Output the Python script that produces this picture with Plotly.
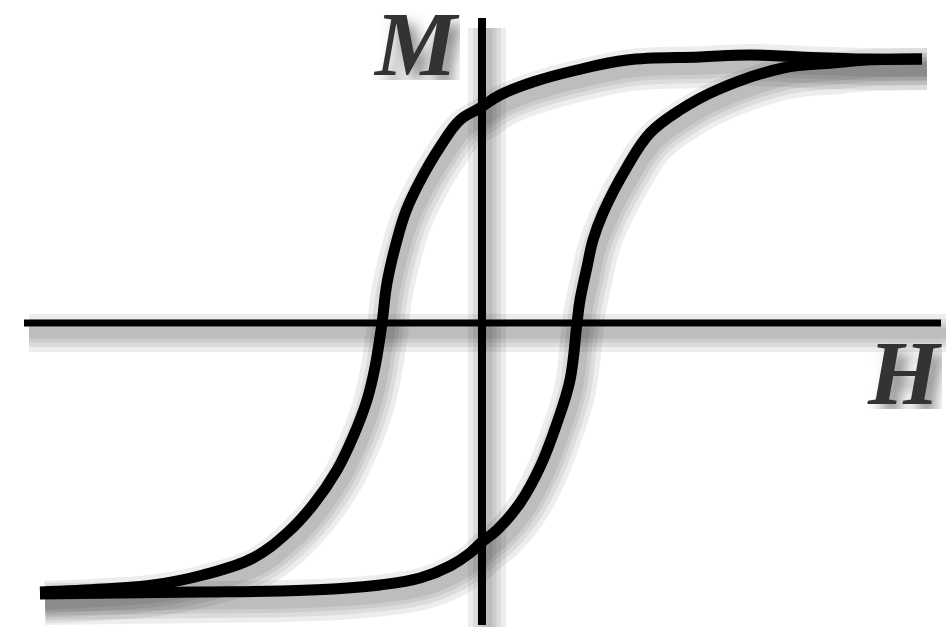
import plotly.graph_objects as go

# Descending branch (from positive saturation down to negative saturation)
H_down = [4.40, 3.85, 3.18, 2.68, 2.18, 1.45, 0.95, 0.51, 0.18, -0.02, -0.22, -0.42,
          -0.63, -0.76, -0.85, -0.95, -1.00, -1.07, -1.15, -1.29, -1.45, -1.69, -1.95,
          -2.29, -2.79, -3.29, -3.79, -4.42]
M_down = [2.64, 2.64, 2.66, 2.68, 2.66, 2.63, 2.53, 2.41, 2.28, 2.15, 2.03, 1.76,
          1.40, 1.12, 0.83, 0.40, 0.00, -0.44, -0.77, -1.14, -1.47, -1.82, -2.10,
          -2.35, -2.52, -2.62, -2.66, -2.69]

# Ascending branch (from negative saturation up to positive saturation)
H_up = [-4.42, -3.62, -2.82, -2.02, -1.49, -1.02, -0.62, -0.32, -0.12, 0.01, 0.15, 0.38,
        0.58, 0.75, 0.88, 0.95, 0.98, 1.05, 1.11, 1.21, 1.45, 1.68, 1.98, 2.35, 3.01,
        3.51, 3.85, 4.40]
M_up = [-2.71, -2.70, -2.69, -2.68, -2.66, -2.62, -2.55, -2.43, -2.30, -2.18, -2.07, -1.80,
        -1.44, -1.00, -0.57, 0.00, 0.23, 0.56, 0.83, 1.10, 1.56, 1.90, 2.13, 2.33, 2.55,
        2.60, 2.63, 2.64]

# Axis extents
H_axis = [-4.58, 4.59]
M_axis = [-3.02, 3.05]

axis_labels = ["M", "H"]

fig = go.Figure()

SMOOTH = 1.1

# soft drop shadows
sdx, sdy = 0.05, -0.10
shadow_widths = [42, 32, 23, 15]
for w in shadow_widths:
    col = "rgba(0,0,0,0.07)"
    fig.add_trace(go.Scatter(x=[h + sdx for h in H_axis], y=[sdy, sdy], mode="lines",
                             line=dict(color=col, width=w - 4), hoverinfo="skip"))
    fig.add_trace(go.Scatter(x=[sdx, sdx], y=[m + sdy for m in M_axis], mode="lines",
                             line=dict(color=col, width=w - 4), hoverinfo="skip"))
    fig.add_trace(go.Scatter(x=[h + sdx for h in H_down], y=[m + sdy for m in M_down],
                             mode="lines", line=dict(color=col, width=w, shape="spline", smoothing=SMOOTH),
                             hoverinfo="skip"))
    fig.add_trace(go.Scatter(x=[h + sdx for h in H_up], y=[m + sdy for m in M_up],
                             mode="lines", line=dict(color=col, width=w, shape="spline", smoothing=SMOOTH),
                             hoverinfo="skip"))

# axes
fig.add_trace(go.Scatter(x=H_axis, y=[0, 0], mode="lines", line=dict(color="black", width=7),
                         hoverinfo="skip"))
fig.add_trace(go.Scatter(x=[0, 0], y=M_axis, mode="lines", line=dict(color="black", width=8),
                         hoverinfo="skip"))

# hysteresis loop
fig.add_trace(go.Scatter(x=H_down, y=M_down, mode="lines",
                         line=dict(color="black", width=11, shape="spline", smoothing=SMOOTH),
                         hoverinfo="skip"))
fig.add_trace(go.Scatter(x=H_up, y=M_up, mode="lines",
                         line=dict(color="black", width=11, shape="spline", smoothing=SMOOTH),
                         hoverinfo="skip"))

lab_font = dict(family="Liberation Serif", size=92, color="#333333", weight="bold",
                style="italic", shadow="8px 10px 14px rgba(0,0,0,0.5)")
fig.add_annotation(x=-0.66, y=2.79, text=axis_labels[0], showarrow=False, font=lab_font,
                   xanchor="center", yanchor="middle", height=72)
fig.add_annotation(x=4.22, y=-0.50, text=axis_labels[1], showarrow=False, font=lab_font,
                   xanchor="center", yanchor="middle", height=72)

fig.update_layout(
    width=952, height=627,
    margin=dict(l=0, r=0, t=0, b=0),
    paper_bgcolor="white", plot_bgcolor="white",
    showlegend=False,
    xaxis=dict(range=[-4.82, 4.70], visible=False, fixedrange=True),
    yaxis=dict(range=[-3.04, 3.23], visible=False, fixedrange=True),
)

fig.write_html("out.html", config={"displayModeBar": False},
               post_script="document.body.style.margin='0px';document.body.style.overflow='hidden';")
